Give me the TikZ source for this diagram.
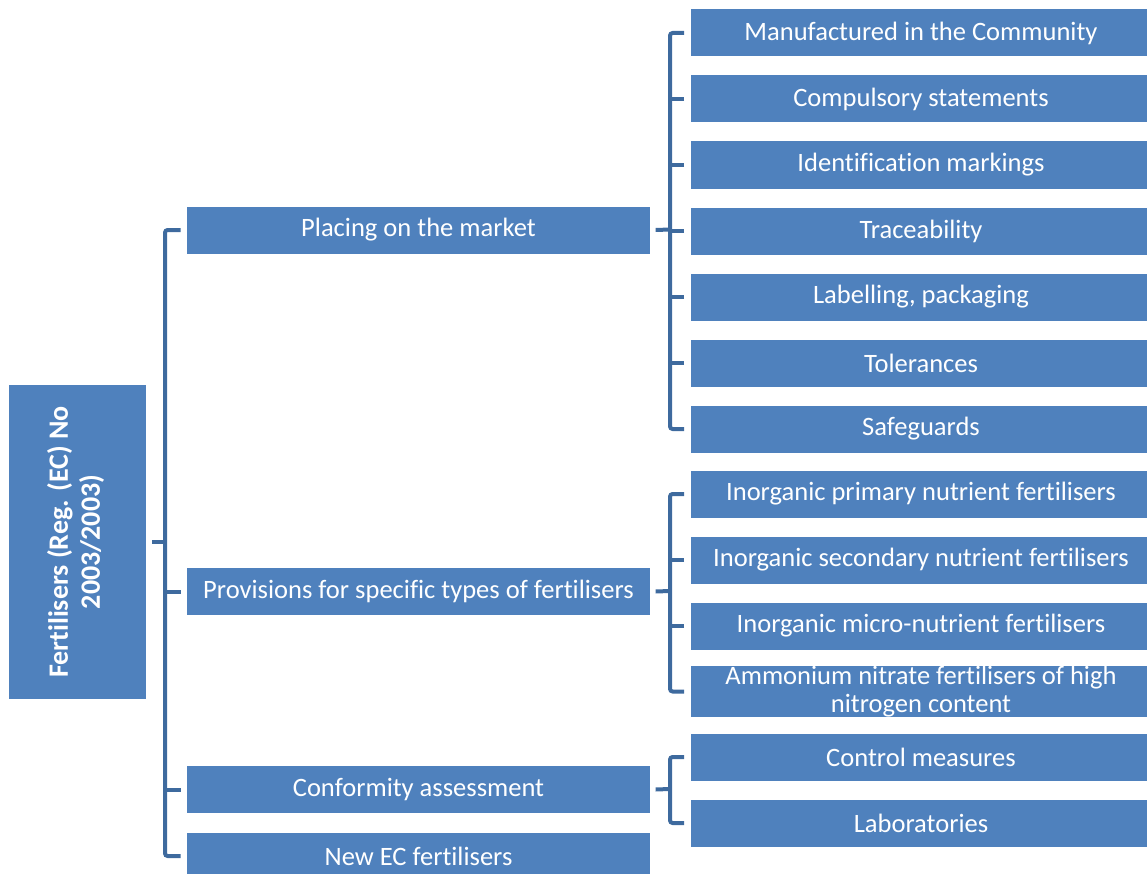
\documentclass[tikz,border=0pt]{standalone}
\usepackage{fontspec}
\setmainfont{Carlito}[RawFeature={-liga;-clig;-dlig;-calt}]
\usetikzlibrary{positioning,calc}
\definecolor{boxblue}{HTML}{4F81BD}
\definecolor{linkblue}{RGB}{62,106,158}
\tikzstyle{block} = [rectangle, fill=boxblue, text=white, align=center, inner sep=0pt, minimum height=35.25pt, font=\fontsize{19.9pt}{21pt}\selectfont]
\tikzstyle{topblock} = [block, minimum width=347.25pt]
\tikzstyle{subblock} = [block, minimum width=345pt]
\tikzstyle{link} = [draw=linkblue, line width=3pt, rounded corners=2pt]

\begin{document}
\begin{tikzpicture}[x=0.75pt, y=-0.75pt]
    \useasboundingbox (0,0) rectangle (1147,874);
    \clip (0,0) rectangle (1147,874);

    \node[block, minimum width=102.75pt, minimum height=235.5pt, font=\bfseries\fontsize{21pt}{24pt}\selectfont] (root) at (77.5,542)
        {\rotatebox{90}{\begin{tabular}{@{}c@{}}Fertilisers (Reg. (EC) No\\2003/2003)\end{tabular}}};

    \node[topblock] (place) at (418.5,230) {Placing on the market};
    \node[topblock] (prov)  at (418.5,591.5) {Provisions for specific types of fertilisers};
    \node[topblock] (conf)  at (418.5,789.5) {Conformity assessment};
    \node[topblock] (newec) at (418.5,856) {New EC fertilisers};

    \node[subblock] (manuf) at (921,33)  {Manufactured in the Community};
    \node[subblock] (comp)  at (921,99)  {Compulsory statements};
    \node[subblock] (ident) at (921,165) {Identification markings};
    \node[subblock] (trace) at (921,231) {Traceability};
    \node[subblock] (label) at (921,297) {Labelling, packaging};
    \node[subblock] (toler) at (921,363) {Tolerances};
    \node[subblock] (safe)  at (921,429) {Safeguards};

    \node[subblock] (prim)  at (921,494) {Inorganic primary nutrient fertilisers};
    \node[subblock] (second) at (921,560) {Inorganic secondary nutrient fertilisers};
    \node[subblock] (micro) at (921,626) {Inorganic micro-nutrient fertilisers};
    \node[subblock] (ammon) at (921,691.5) {Ammonium nitrate fertilisers of high\\nitrogen content};

    \node[subblock] (ctrl)  at (921,757) {Control measures};
    \node[subblock] (lab)   at (921,823) {Laboratories};

    % brackets
    \coordinate (rbus) at (165,542);
    \coordinate (pbus) at (670,229.5);
    \coordinate (vbus) at (670,591);
    \coordinate (cbus) at (670,789);

    \draw[link] ([xshift=4.5pt]root.east) -- (rbus);
    \draw[link] ([xshift=-4.5pt]place.west) -| (rbus) |- ([xshift=-4.5pt]newec.west);
    \draw[link] ([xshift=-4.5pt]prov.west) -- (prov.west -| rbus);
    \draw[link] ([xshift=-4.5pt]conf.west) -- (conf.west -| rbus);

    \draw[link] ([xshift=4pt]place.east) -- (pbus);
    \draw[link] ([xshift=-5pt]manuf.west) -| (pbus) |- ([xshift=-5pt]safe.west);
    \foreach \n in {comp,ident,trace,label,toler}
        \draw[link] ([xshift=-5pt]\n.west) -- (\n.west -| pbus);

    \draw[link] ([xshift=4pt]prov.east) -- (vbus);
    \draw[link] ([xshift=-5pt]prim.west) -| (vbus) |- ([xshift=-5pt]ammon.west);
    \foreach \n in {second,micro}
        \draw[link] ([xshift=-5pt]\n.west) -- (\n.west -| vbus);

    \draw[link] ([xshift=4pt]conf.east) -- (cbus);
    \draw[link] ([xshift=-5pt]ctrl.west) -| (cbus) |- ([xshift=-5pt]lab.west);
\end{tikzpicture}
\end{document}
